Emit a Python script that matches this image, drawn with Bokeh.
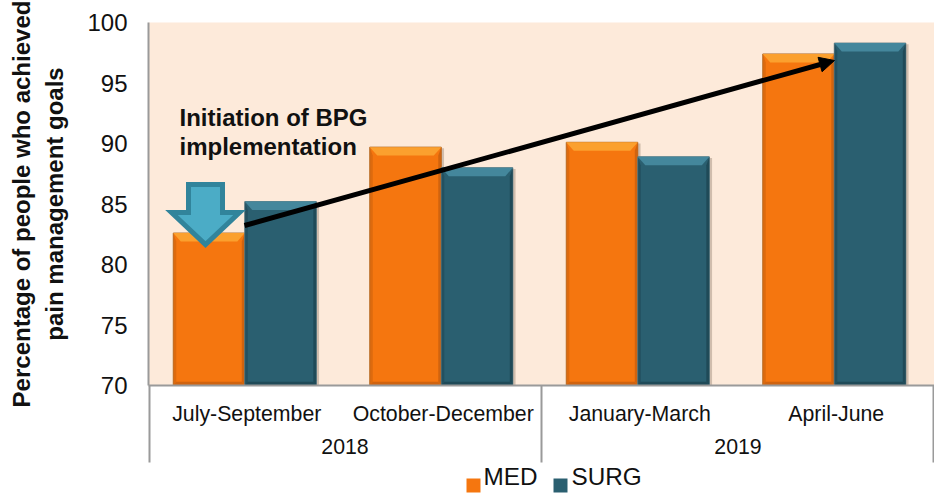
from bokeh.plotting import figure
from bokeh.models import (Range1d, FactorRange, CategoricalAxis, LinearAxis, FixedTicker, Label,
                          Arrow, NormalHead)
from bokeh.embed import file_html
from bokeh.resources import INLINE

years = ["2018", "2018", "2019", "2019"]
quarters = ["July-September", "October-December", "January-March", "April-June"]
med = [82.6, 89.7, 90.1, 97.4]
surg = [85.2, 88.0, 88.9, 98.3]
y_ticks = [70, 75, 80, 85, 90, 95, 100]
y_title = "Percentage of people who achieved\npain management goals"
MED_COL = dict(main="#F5760F", top="#FBA02E", side="#C9600F", edge="#B5702F")
SURG_COL = dict(main="#2A5F70", top="#44879C", side="#1D4654", edge="#5F7F88")
FONT = "Liberation Sans"
AX = "#9A9A9A"

p = figure(width=934, height=493, output_backend="svg", toolbar_location=None,
           x_range=FactorRange(*[(y, q) for y, q in zip(years, quarters)], factor_padding=0,
                               group_padding=0, range_padding=0),
           y_range=Range1d(70, 100),
           x_axis_location=None, y_axis_location=None,
           min_border_left=148, min_border_right=0, min_border_top=22, min_border_bottom=108,
           background_fill_color="#FDEADA", border_fill_color="white", outline_line_color=None)
p.grid.visible = False

yaxis = LinearAxis(ticker=FixedTicker(ticks=y_ticks), axis_line_color=AX, axis_line_width=2,
                   major_tick_line_color=AX, major_tick_out=0, major_tick_in=0, minor_tick_line_color=None,
                   major_label_text_font=FONT, major_label_text_font_size="24px",
                   major_label_standoff=21, major_label_text_color="#111111")
p.add_layout(yaxis, "left")

# outer left axis only carries the two-line title, centred as in the chart
title_axis = LinearAxis(ticker=FixedTicker(ticks=[]), bounds=(70, 94.8), axis_line_color=None,
                        major_tick_line_color=None, minor_tick_line_color=None,
                        axis_label=y_title, axis_label_standoff=17, axis_label_text_font=FONT,
                        axis_label_text_font_size="24px", axis_label_text_font_style="bold",
                        axis_label_text_align="center", axis_label_text_color="#111111")
p.add_layout(title_axis, "left")

xaxis = CategoricalAxis(axis_line_color=AX, axis_line_width=2,
                        major_tick_line_color=None, major_label_orientation="horizontal",
                        major_label_text_font=FONT, major_label_text_font_size="21.3px",
                        major_label_standoff=10, major_label_text_color="#111111",
                        group_text_font=FONT, group_text_font_size="21.3px", group_text_color="#111111",
                        group_text_font_style="normal", group_label_orientation="horizontal",
                        separator_line_color=None)
p.add_layout(xaxis, "below")

# second axis under the labels: its inward ticks are the group separators
sep_axis = LinearAxis(ticker=FixedTicker(ticks=[0.005, 2, 3.997]), axis_line_color=None,
                      major_tick_line_color=AX, major_tick_line_width=2, major_tick_in=71, major_tick_out=6,
                      minor_tick_line_color=None, major_label_text_font_size="1px",
                      major_label_text_color=None, major_label_standoff=0)
p.add_layout(sep_axis, "below")

# legend row: names on one axis, colour keys as thick ticks on the next
legend_pos = [1.842, 2.331]
legend_names = ["MED", "SURG"]
name_axis = LinearAxis(ticker=FixedTicker(ticks=legend_pos), axis_line_color=None,
                       major_tick_line_color=None, minor_tick_line_color=None, major_tick_in=0, major_tick_out=0,
                       major_label_overrides=dict(zip(legend_pos, legend_names)), major_label_standoff=0,
                       major_label_text_font=FONT, major_label_text_font_size="24.3px",
                       major_label_text_color="#111111")
p.add_layout(name_axis, "below")
key_axis = LinearAxis(ticker=FixedTicker(ticks=[1.654], minor_ticks=[2.097]), axis_line_color=None,
                      major_tick_line_color=MED_COL["main"], major_tick_line_width=14,
                      major_tick_in=14, major_tick_out=0,
                      minor_tick_line_color=SURG_COL["main"], minor_tick_line_width=14,
                      minor_tick_in=14, minor_tick_out=0,
                      major_label_text_font_size="1px", major_label_text_color=None, major_label_standoff=0)
p.add_layout(key_axis, "below")

W = 0.364
BX = 3 / 196.5   # side bevel, in category units
BY = 0.7         # top bevel, in value units
CENTER = 0.49

def bars(vals, offset, c):
    xs = [i + CENTER + offset for i in range(len(vals))]
    l = [x - W / 2 for x in xs]
    r = [x + W / 2 for x in xs]
    b = [70] * len(vals)
    p.quad(left=[a + 0.012 for a in l], right=[a + 0.014 for a in r], bottom=b,
           top=[v - 0.1 for v in vals], fill_color="#7A6A5A", fill_alpha=0.35, line_color=None)
    p.quad(left=l, right=r, bottom=b, top=vals, fill_color=c["main"], line_color=c["edge"], line_width=1)
    p.patches([[a, a + BX, a + BX, a] for a in l], [[70, 70.3, v - BY, v] for v in vals],
              fill_color=c["side"], fill_alpha=0.55, line_color=None)
    p.patches([[a, a - BX, a - BX, a] for a in r], [[70, 70.3, v - BY, v] for v in vals],
              fill_color=c["side"], fill_alpha=0.85, line_color=None)
    p.patches([[a, d, d - BX, a + BX] for a, d in zip(l, r)], [[70, 70, 70.3, 70.3] for _ in vals],
              fill_color=c["side"], fill_alpha=0.85, line_color=None)
    p.patches([[a, d, d - 2.5 * BX, a + 2.5 * BX] for a, d in zip(l, r)], [[v, v, v - BY, v - BY] for v in vals],
              fill_color=c["top"], line_color=None)

bars(med, -W / 2, MED_COL)
bars(surg, W / 2, SURG_COL)

def dx(px): return (px - 148) / 196.5
def dy(py): return 70 + (385 - py) / 12.1

# implementation marker
p.patch([dx(v) for v in (188, 222, 222, 239, 205, 171, 188)],
        [dy(v) for v in (184, 184, 212, 212, 244, 212, 212)],
        fill_color="#4BACC6", line_color="#31849B", line_width=5, line_join="miter")

p.add_layout(Arrow(end=NormalHead(size=15, fill_color="black", line_color="black"), line_color="black",
                   line_width=5, x_start=dx(244), y_start=dy(225), x_end=dx(834), y_end=dy(60)))

for txt, yy in (("Initiation of BPG", 117), ("implementation", 146)):
    p.add_layout(Label(x=dx(179), y=dy(yy), text=txt,
                       text_font=FONT, text_font_size="24px", text_font_style="bold",
                       text_baseline="middle", text_color="#111111"))

open("out.html", "w").write(file_html(p, INLINE))
